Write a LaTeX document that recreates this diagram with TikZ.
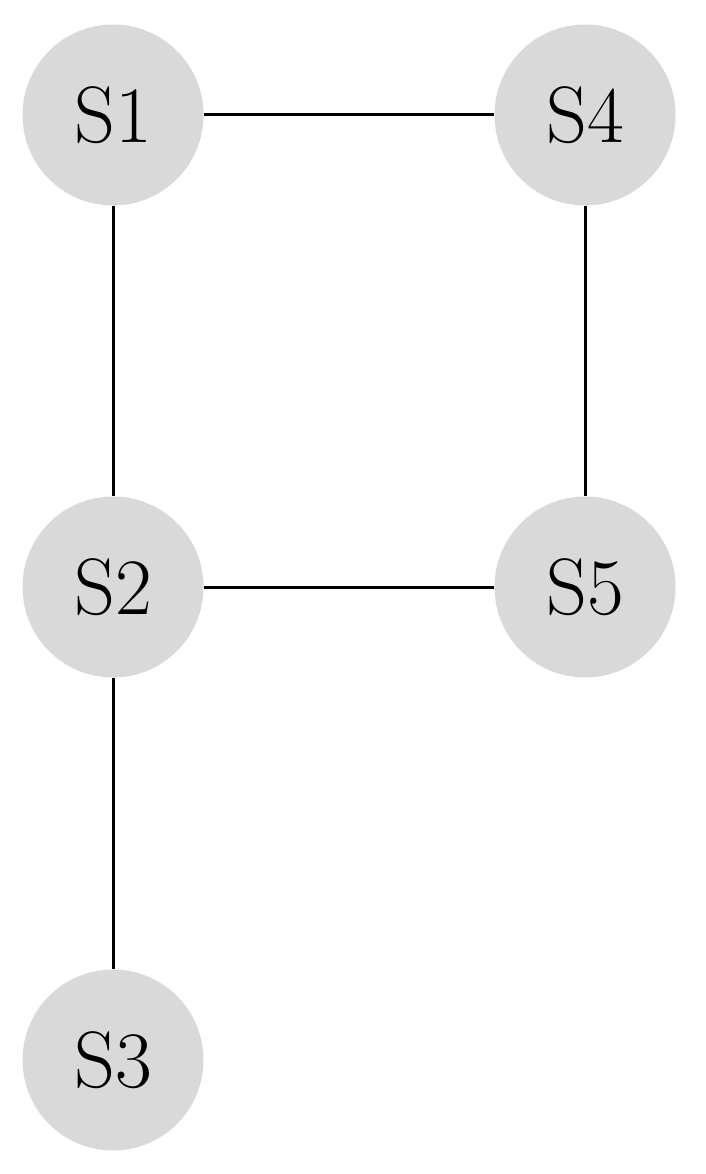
\documentclass[tikz,border=0pt]{standalone}
\begin{document}
\begin{tikzpicture}[x=1pt,y=-1pt,
  state/.style={circle,fill=nodegray,draw=none,minimum size=181pt,inner sep=0pt,
    font=\fontsize{80}{90}\selectfont},
  link/.style={line width=3pt,black}]
\definecolor{nodegray}{RGB}{217,217,217}
\useasboundingbox (0,0) rectangle (705,1174);
\node[state] (s1) at (113,115) {S1};
\node[state] (s4) at (585,115) {S4};
\node[state] (s2) at (113,587) {S2};
\node[state] (s5) at (585,587) {S5};
\node[state] (s3) at (113,1060) {S3};
\draw[link] (s1) -- (s4);
\draw[link] (s1) -- (s2);
\draw[link] (s4) -- (s5);
\draw[link] (s2) -- (s5);
\draw[link] (s2) -- (s3);
\end{tikzpicture}
\end{document}
